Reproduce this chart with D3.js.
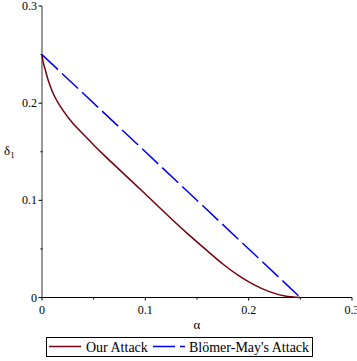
<!DOCTYPE html>
<html>
<head>
<meta charset="utf-8">
<script src="https://cdn.jsdelivr.net/npm/d3@7"></script>
<style>
  body { margin: 0; background: #fff; }
</style>
</head>
<body>
<div id="chart"></div>
<script>
// alpha / delta_1 values
const ourAlpha = [0, 0.001, 0.003, 0.006, 0.01, 0.02, 0.03, 0.04, 0.05, 0.06, 0.08, 0.1, 0.12, 0.14, 0.16, 0.175, 0.19, 0.205, 0.22, 0.235, 0.25];
const ourDelta = [0.25, 0.243, 0.235, 0.2235, 0.212, 0.193, 0.179, 0.168, 0.157, 0.1465, 0.1265, 0.1065, 0.0862, 0.0665, 0.048, 0.0345, 0.0228, 0.0133, 0.006, 0.0015, 0];
const bmAlpha = [0, 0.25];
const bmDelta = [0.25, 0];
const majorTicks = [0, 0.1, 0.2, 0.3];
const minorTicks = [0.05, 0.15, 0.25];
const tickLabels = ["0", "0.1", "0.2", "0.3"];
const seriesNames = ["Our Attack", "Blömer-May's Attack"];

const FONT = "'Liberation Serif', 'Times New Roman', 'DejaVu Serif', serif";
const W = 357, H = 361;
const margin = { top: 6, right: 5, bottom: 63.5, left: 42 };

const svg = d3.select("#chart")
    .append("svg")
    .attr("width", W)
    .attr("height", H)
    .attr("font-family", FONT);

const x = d3.scaleLinear().domain([0, 0.3]).range([margin.left, W - margin.right]);
const y = d3.scaleLinear().domain([0, 0.3]).range([H - margin.bottom, margin.top]);

// axes lines
svg.append("line")
    .attr("x1", x(0)).attr("x2", x(0.3))
    .attr("y1", y(0)).attr("y2", y(0))
    .attr("stroke", "#000").attr("stroke-width", 1);
svg.append("line")
    .attr("x1", x(0)).attr("x2", x(0))
    .attr("y1", y(0)).attr("y2", y(0.3))
    .attr("stroke", "#555").attr("stroke-width", 1.2);

// ticks
svg.selectAll(".xmaj").data(majorTicks).enter().append("line")
    .attr("x1", d => x(d)).attr("x2", d => x(d))
    .attr("y1", y(0)).attr("y2", y(0) + 3)
    .attr("stroke", "#000");
svg.selectAll(".xmin").data(minorTicks).enter().append("line")
    .attr("x1", d => x(d)).attr("x2", d => x(d))
    .attr("y1", y(0)).attr("y2", y(0) + 2)
    .attr("stroke", "#000");
svg.selectAll(".ymaj").data(majorTicks).enter().append("line")
    .attr("x1", x(0) - 3.5).attr("x2", x(0))
    .attr("y1", d => y(d)).attr("y2", d => y(d))
    .attr("stroke", "#000");
svg.selectAll(".ymin").data(minorTicks).enter().append("line")
    .attr("x1", x(0) - 1.5).attr("x2", x(0) + 0.5)
    .attr("y1", d => y(d)).attr("y2", d => y(d))
    .attr("stroke", "#000");

// tick labels
svg.selectAll(".xlab").data(majorTicks).enter().append("text")
    .attr("x", d => x(d))
    .attr("y", y(0) + 16.5)
    .attr("text-anchor", "middle")
    .attr("font-size", 12)
    .text((d, i) => tickLabels[i]);
svg.selectAll(".ylab").data(majorTicks).enter().append("text")
    .attr("x", x(0) - 5)
    .attr("y", d => y(d) + 4)
    .attr("text-anchor", "end")
    .attr("font-size", 12)
    .text((d, i) => tickLabels[i]);

// axis titles
svg.append("text")
    .attr("x", (x(0) + x(0.3)) / 2)
    .attr("y", 329)
    .attr("text-anchor", "middle")
    .attr("font-size", 13)
    .text("α");
const yt = svg.append("text")
    .attr("x", 4)
    .attr("y", 155)
    .attr("font-size", 13);
yt.append("tspan").text("δ");
yt.append("tspan").attr("dy", 3).attr("font-size", 9).text("1");

// curves
const line = d3.line()
    .x(d => x(d[0]))
    .y(d => y(d[1]))
    .curve(d3.curveMonotoneX);

svg.append("path")
    .datum(ourAlpha.map((a, i) => [a, ourDelta[i]]))
    .attr("d", line)
    .attr("fill", "none")
    .attr("stroke", "#78000E")
    .attr("stroke-width", 1.5);

svg.append("path")
    .datum(bmAlpha.map((a, i) => [a, bmDelta[i]]))
    .attr("d", d3.line().x(d => x(d[0])).y(d => y(d[1])))
    .attr("fill", "none")
    .attr("stroke", "#0000ff")
    .attr("stroke-width", 1.5)
    .attr("stroke-dasharray", "22,5.5");

// legend
const legend = svg.append("g");
legend.append("rect")
    .attr("x", 46.5).attr("y", 337.5)
    .attr("width", 266).attr("height", 19)
    .attr("fill", "#fff")
    .attr("stroke", "#000")
    .attr("stroke-width", 1);

const legendItems = [
    { name: seriesNames[0], color: "#78000E", dash: null, x0: 49, tx: 86 },
    { name: seriesNames[1], color: "#0000ff", dash: "22,5", x0: 153, tx: 189 }
];
legendItems.forEach(it => {
    legend.append("line")
        .attr("x1", it.x0).attr("x2", it.x0 + 32)
        .attr("y1", 346.5).attr("y2", 346.5)
        .attr("stroke", it.color)
        .attr("stroke-width", 1.5)
        .attr("stroke-dasharray", it.dash);
    legend.append("text")
        .attr("x", it.tx)
        .attr("y", 351.5)
        .attr("font-size", 14)
        .text(it.name);
});
</script>
</body>
</html>
